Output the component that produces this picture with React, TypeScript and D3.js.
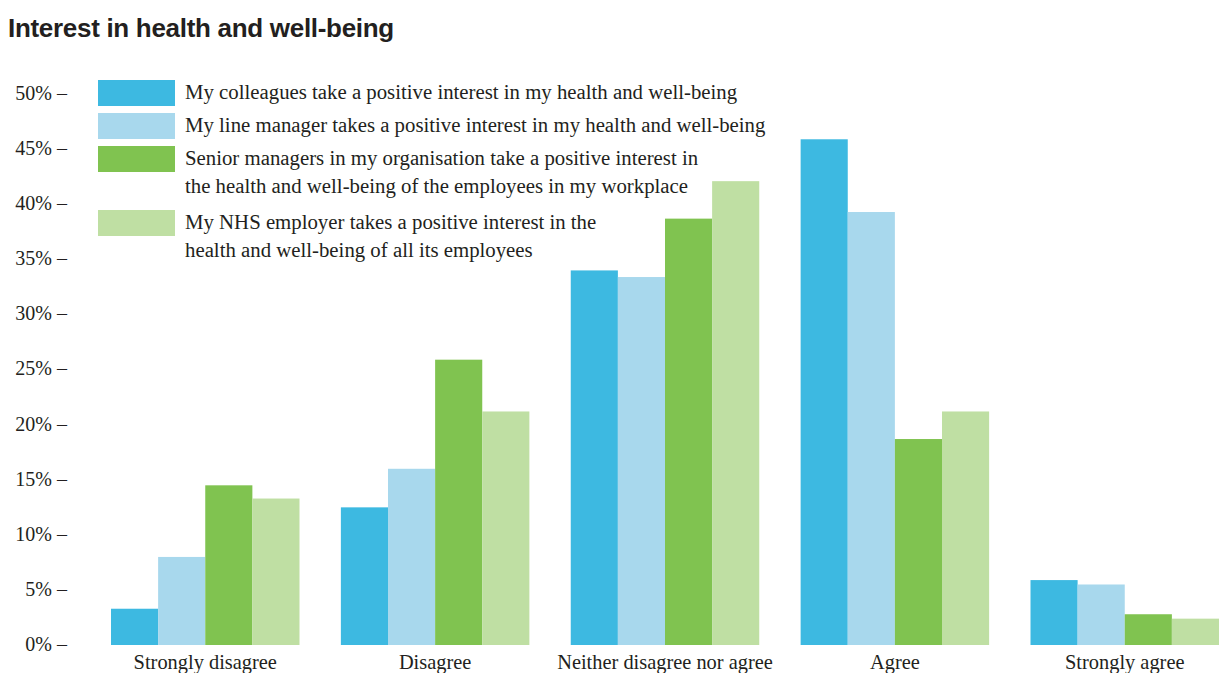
import { useEffect, useRef } from 'react';
import * as d3 from 'd3';

const categories = ['Strongly disagree', 'Disagree', 'Neither disagree nor agree', 'Agree', 'Strongly agree'];
const seriesNames = ['colleagues', 'lineManager', 'seniorManagers', 'employer'];

const colleagues = [3.2, 12.4, 33.9, 45.8, 5.8];
const lineManager = [7.9, 15.9, 33.3, 39.2, 5.4];
const seniorManagers = [14.4, 25.8, 38.6, 18.6, 2.7];
const employer = [13.2, 21.1, 42.0, 21.1, 2.3];

const yTicks = [0, 5, 10, 15, 20, 25, 30, 35, 40, 45, 50];

const legendLabels = [
  ['My colleagues take a positive interest in my health and well-being'],
  ['My line manager takes a positive interest in my health and well-being'],
  ['Senior managers in my organisation take a positive interest in', 'the health and well-being of the employees in my workplace'],
  ['My NHS employer takes a positive interest in the', 'health and well-being of all its employees'],
];

const colors = ['#3db9e1', '#a8d8ed', '#80c350', '#bfdfa3'];

export default function App() {
  const svgRef = useRef<SVGSVGElement | null>(null);

  useEffect(() => {
    const width = 1220;
    const height = 673;
    const textColor = '#231f20';
    const serif = "'Liberation Serif', 'Times New Roman', serif";

    const svg = d3.select(svgRef.current);
    svg.selectAll('*').remove();
    svg.attr('width', width).attr('height', height);

    const values = [colleagues, lineManager, seniorManagers, employer];
    const rows = categories.map((c, i) => ({
      category: c,
      vals: values.map((v, j) => ({ key: seriesNames[j], value: v[i], color: colors[j] })),
    }));

    const x0 = d3.scaleBand().domain(categories).range([111, 1219]).paddingInner(0.18).paddingOuter(0);
    const x1 = d3.scaleBand().domain(seriesNames).range([0, x0.bandwidth()]).padding(0);
    const y = d3.scaleLinear().domain([0, 50]).range([644, 93]);

    // title
    svg.append('text')
      .attr('x', 8)
      .attr('y', 37)
      .attr('fill', textColor)
      .style('font-family', "'Liberation Sans', Arial, sans-serif")
      .style('font-weight', 'bold')
      .style('font-size', '26px')
      .style('letter-spacing', '-0.3px')
      .text('Interest in health and well-being');

    // y axis
    const yAxis = svg.append('g')
      .attr('transform', 'translate(67,0)')
      .call(d3.axisLeft(y).tickValues(yTicks).tickSize(0).tickPadding(0).tickFormat(d => `${d}% –`));
    yAxis.select('.domain').remove();
    yAxis.selectAll('text')
      .attr('fill', textColor)
      .style('font-family', serif)
      .style('font-size', '20px');

    // bars
    const g = svg.append('g');
    g.selectAll('g.group')
      .data(rows)
      .enter()
      .append('g')
      .attr('class', 'group')
      .attr('transform', d => `translate(${x0(d.category)},0)`)
      .selectAll('rect')
      .data(d => d.vals)
      .enter()
      .append('rect')
      .attr('x', d => x1(d.key)!)
      .attr('y', d => y(d.value))
      .attr('width', x1.bandwidth())
      .attr('height', d => 645 - y(d.value))
      .attr('fill', d => d.color);

    // category labels
    svg.append('g')
      .selectAll('text')
      .data(categories)
      .enter()
      .append('text')
      .attr('x', d => x0(d)! + x0.bandwidth() / 2)
      .attr('y', 669)
      .attr('text-anchor', 'middle')
      .attr('fill', textColor)
      .style('font-family', serif)
      .style('font-size', '20.4px')
      .text(d => d);

    // legend
    const legendY = [80, 113, 146, 210];
    const legend = svg.append('g');
    legendLabels.forEach((lines, i) => {
      legend.append('rect')
        .attr('x', 98)
        .attr('y', legendY[i])
        .attr('width', 77)
        .attr('height', 26)
        .attr('fill', colors[i]);
      lines.forEach((line, k) => {
        legend.append('text')
          .attr('x', 185)
          .attr('y', legendY[i] + 19 + k * 28)
          .attr('fill', textColor)
          .style('font-family', serif)
          .style('font-size', '20.8px')
          .text(line);
      });
    });
  }, []);

  return (
    <div style={{ position: 'absolute', left: 0, top: 0, background: '#fff' }}>
      <svg ref={svgRef} />
    </div>
  );
}
